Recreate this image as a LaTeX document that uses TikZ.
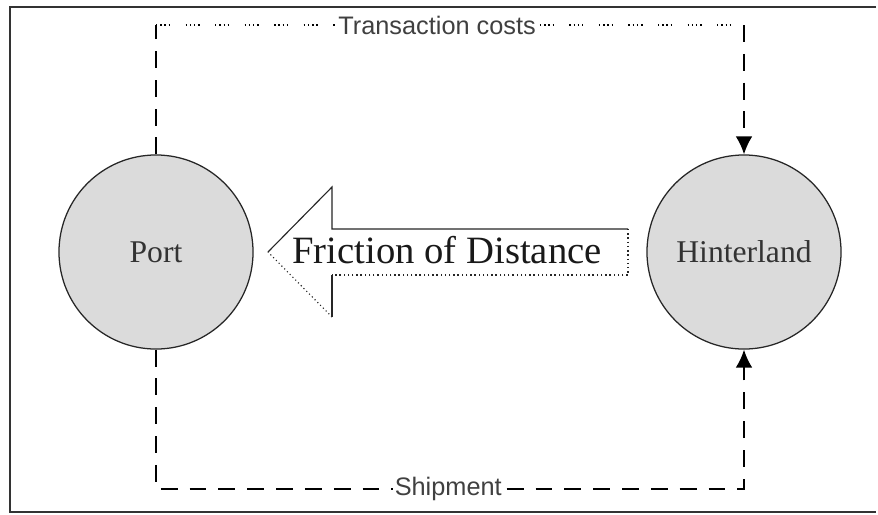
\documentclass[tikz,border=0pt]{standalone}
\usepackage{fontspec}
\setmainfont{Liberation Serif}
\newfontfamily\labelfont{Liberation Sans}
\usetikzlibrary{arrows.meta}

\tikzset{
	place/.style={circle, draw=black!85, line width=0.9pt, fill=black!14,
		minimum size=4.85cm, inner sep=0pt, text=black!80,
		font=\fontsize{22.5}{26}\selectfont},
	flow/.style={line width=1.4pt, dash pattern=on 12pt off 8.5pt},
	costline/.style={line width=0.8pt,
		dash pattern=on 1pt off 2pt on 1pt off 2pt on 1pt off 2pt on 1pt off 11pt},
	flowlabel/.style={fill=white, inner sep=1.5pt, text=black!75,
		font=\labelfont\fontsize{18}{20}\selectfont},
	head/.style={-{Latex[length=4.5mm,width=4.2mm]}}
}

\begin{document}
\begin{tikzpicture}[x=0.025cm,y=-0.025cm]
	% coordinates are in pixels, y running downwards
	\path[use as bounding box] (0,0) rectangle (878,514);
	
	\def\costy{25}% height of the transaction costs line
	\def\shipy{489}% height of the shipment line
	
	% frame, open on the right
	\draw[line width=1.4pt, black!80] (876,7) -- (10,7) -- (10,512) -- (876,512);
	
	\node[place] (port) at (156,252) {Port};
	\node[place] (hinter) at (744,252) {Hinterland};
	
	\coordinate (tl) at (156,\costy);
	\coordinate (tr) at (744,\costy);
	\coordinate (bl) at (156,\shipy);
	\coordinate (br) at (744,\shipy);
	
	% transaction costs, over the top
	\draw[flow] (port.north) -- (tl);
	\draw[costline] (tl) -- node[flowlabel, pos=0.478] (costs) {Transaction costs} (tr);
	\draw[flow, head] (tr) -- (hinter.north);
	
	% shipment, along the bottom
	\draw[flow, head] (port.south) -- (bl) -- node[flowlabel, pos=0.497] (ship) {Shipment} (br) -- (hinter.south);
	
	% the big hollow arrow
	\coordinate (tip) at (268,252);
	\fill[white] (tip) -- (332,187) -- (332,229) -- (628,229) -- (628,275)
		-- (332,275) -- (332,317) -- cycle;
	\draw[black!85, line width=0.8pt] (tip) -- (332,187) -- (332,229) -- (628,229);
	\draw[black!85, line width=0.8pt] (332,275) -- (332,317);
	\draw[black!85, line width=1pt, dotted] (628,229) -- (628,275) -- (332,275);
	\draw[black!85, line width=0.8pt, dotted] (332,317) -- (tip);
	\node[text=black!90, font=\fontsize{27.5}{30}\selectfont] (friction) at (447,250) {Friction of Distance};
\end{tikzpicture}
\end{document}
